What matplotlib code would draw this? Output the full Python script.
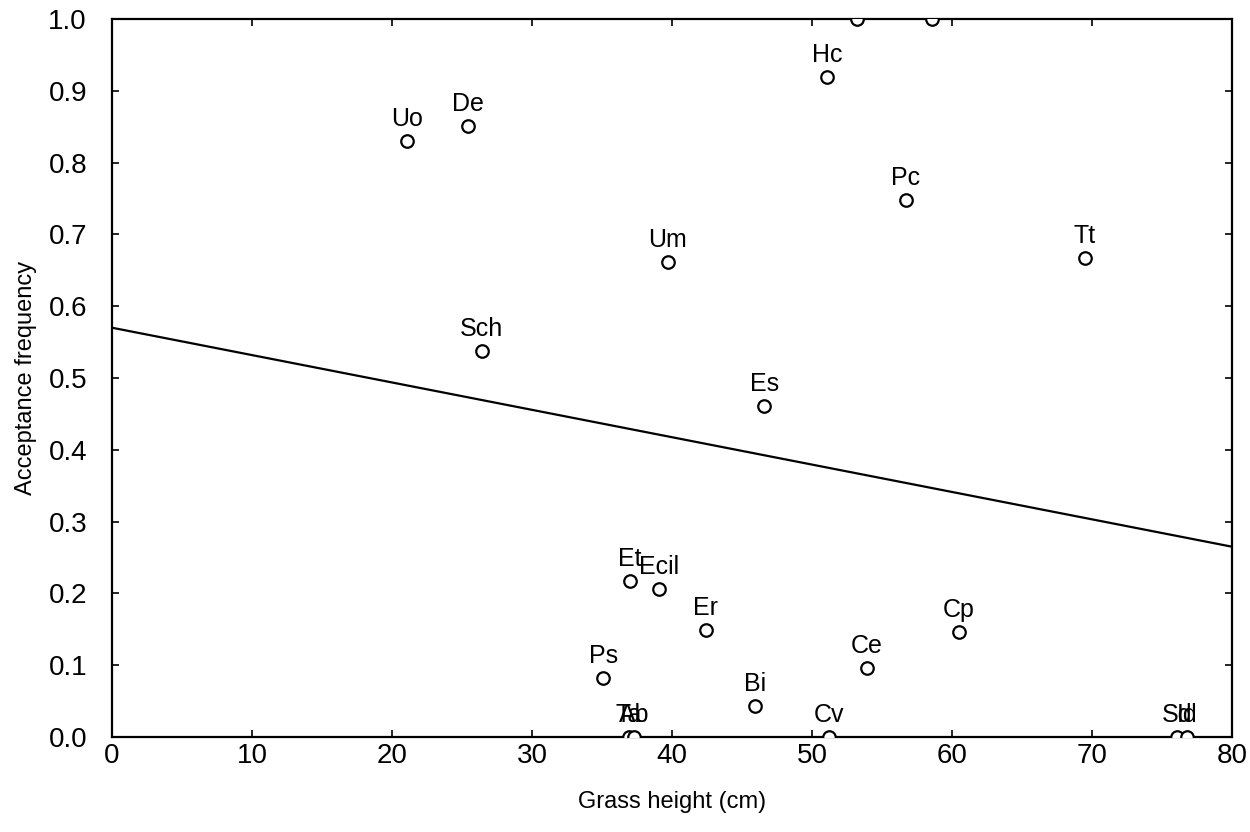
import matplotlib
matplotlib.use('Agg')
import matplotlib.pyplot as plt

plt.rcParams['font.family'] = ['Liberation Sans', 'DejaVu Sans']

# species codes, grass height (cm), acceptance frequency
labels = ['Uo', 'De', 'Hc', '', '', 'Pc', 'Um', 'Tt', 'Sch', 'Es', 'Et', 'Ecil',
          'Er', 'Cp', 'Ce', 'Ps', 'Bi', 'Ta', 'Ab', 'Cv', 'Sd', 'Id']
height = [21.1, 25.4, 51.1, 53.2, 58.6, 56.7, 39.7, 69.5, 26.4, 46.6, 37.0, 39.1,
          42.4, 60.5, 53.9, 35.1, 45.9, 36.9, 37.3, 51.2, 76.1, 76.8]
accept = [0.830, 0.851, 0.919, 1.0, 1.0, 0.748, 0.662, 0.667, 0.538, 0.461, 0.217, 0.206,
          0.149, 0.146, 0.096, 0.082, 0.043, 0.0, 0.0, 0.0, 0.0, 0.0]

# fitted line end points
fit_x = [0, 80]
fit_y = [0.57, 0.265]

fig = plt.figure(figsize=(12.5, 8.32), dpi=100)
ax = fig.add_axes([0.0896, 0.1142, 0.896, 0.863])

ax.plot(height, accept, 'o', mfc='white', mec='black', mew=1.6, ms=9, zorder=3)
ax.plot(fit_x, fit_y, color='black', lw=1.6)

for lab, x, y in zip(labels, height, accept):
    ax.annotate(lab, (x, y), xytext=(0, 7), textcoords='offset points',
                ha='center', va='bottom', fontsize=18, annotation_clip=True)

ax.set_xlim(0, 80)
ax.set_ylim(0, 1.0)
ax.set_xticks(range(0, 81, 10))
ax.set_yticks([i / 10 for i in range(11)])
ax.set_yticklabels(['%.1f' % (i / 10) for i in range(11)])
ax.tick_params(direction='in', length=5, width=1.2, labelsize=20,
               top=True, right=True)
ax.tick_params(axis='y', pad=18)
ax.tick_params(axis='x', pad=4)
for s in ax.spines.values():
    s.set_linewidth(1.6)

ax.set_xlabel('Grass height (cm)', fontsize=17, labelpad=16)
ax.set_ylabel('Acceptance frequency', fontsize=17, labelpad=8)

plt.savefig('out.png')
plt.close()
